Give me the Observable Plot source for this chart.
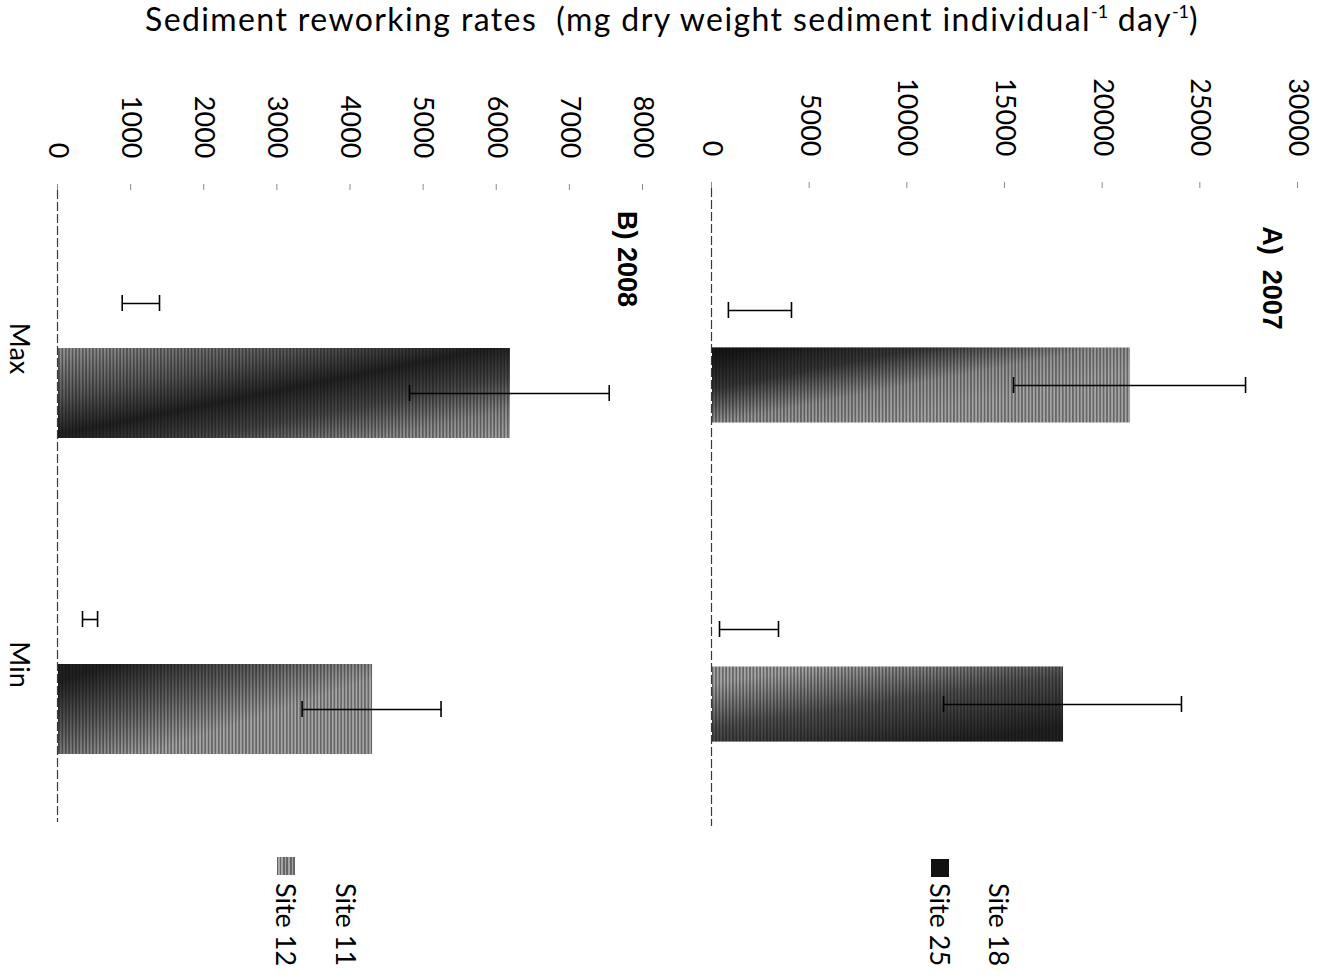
<!DOCTYPE html>
<html><head><meta charset="utf-8">
<script src="https://cdn.jsdelivr.net/npm/d3@7"></script>
<script src="https://cdn.jsdelivr.net/npm/@observablehq/plot@0.6"></script>
<style>
html,body{margin:0;padding:0;background:#fff;overflow:hidden;width:1322px;height:977px;}
#title{position:absolute;left:0;top:0;width:1344px;text-align:center;font-family:Lato,sans-serif;font-size:32px;letter-spacing:1.4px;line-height:37px;color:#000;white-space:pre;}
#title sup{font-size:18px;line-height:0;vertical-align:baseline;position:relative;top:-13px;letter-spacing:0;}
#rot{position:absolute;left:0;top:0;width:977px;height:1322px;transform-origin:0 0;transform:translate(1322px,0) rotate(90deg);}
.panel{position:absolute;left:0;}
.ptitle{position:absolute;width:300px;text-align:center;font-family:"Liberation Sans",Arial,sans-serif;font-weight:bold;font-size:27px;line-height:30px;white-space:pre;color:#000;}
.leg{position:absolute;font-family:Lato,sans-serif;font-size:27px;line-height:30px;white-space:pre;color:#000;}
.sw{position:absolute;width:18px;height:18px;}
g[aria-label="y-axis tick"] path, g[aria-label="y-axis"] .tick line {stroke:#8a8a8a;}
</style></head><body>
<svg width="0" height="0" style="position:absolute;left:0;top:0">
<defs>
<pattern id="stripes" patternUnits="userSpaceOnUse" width="10" height="3.4">
<rect width="10" height="3.4" fill="#a6a6a6"/><rect width="10" height="1.7" fill="#666"/>
</pattern>
<linearGradient id="gA0" x1="0.1" y1="1" x2="0.7" y2="0.35">
<stop offset="0" stop-color="#0a0a0a" stop-opacity="0.92"/><stop offset="0.35" stop-color="#0a0a0a" stop-opacity="0.7"/><stop offset="0.7" stop-color="#0a0a0a" stop-opacity="0.1"/><stop offset="1" stop-color="#0a0a0a" stop-opacity="0"/>
</linearGradient>
<linearGradient id="gA1" x1="1" y1="0.3" x2="0" y2="1">
<stop offset="0" stop-color="#0a0a0a" stop-opacity="0.85"/><stop offset="0.45" stop-color="#0a0a0a" stop-opacity="0.55"/><stop offset="0.85" stop-color="#0a0a0a" stop-opacity="0"/>
</linearGradient>
<linearGradient id="gB0" x1="0" y1="1" x2="1" y2="0">
<stop offset="0" stop-color="#0a0a0a" stop-opacity="0.1"/><stop offset="0.28" stop-color="#0a0a0a" stop-opacity="0.5"/><stop offset="0.48" stop-color="#0a0a0a" stop-opacity="0.85"/><stop offset="0.66" stop-color="#0a0a0a" stop-opacity="0.6"/><stop offset="0.85" stop-color="#0a0a0a" stop-opacity="0.15"/><stop offset="1" stop-color="#0a0a0a" stop-opacity="0"/>
</linearGradient>
<linearGradient id="gB1" x1="0.2" y1="1" x2="0.8" y2="0.3">
<stop offset="0" stop-color="#0a0a0a" stop-opacity="0.85"/><stop offset="0.4" stop-color="#0a0a0a" stop-opacity="0.45"/><stop offset="0.8" stop-color="#0a0a0a" stop-opacity="0"/>
</linearGradient>
</defs></svg>
<div id="title">Sediment reworking rates  (mg dry weight sediment individual<sup>-1</sup> day<sup>-1</sup>)</div>
<div id="rot"></div>
<script>
// ---- data ----
const categories = ["Max", "Min"];
const sitesA = ["Site 18", "Site 25"];
const sitesB = ["Site 11", "Site 12"];
// panel A (2007), values per category [Max, Min]
const site18Means = [2480, 1920];
const site18Errors = [1615, 1510];
const site25Means = [21400, 17970];
const site25Errors = [5940, 6090];
// panel B (2008)
const site11Means = [1140, 445];
const site11Errors = [255, 103];
const site12Means = [6180, 4295];
const site12Errors = [1365, 950];
const ticksA = [0, 5000, 10000, 15000, 20000, 25000, 30000];
const ticksB = [0, 1000, 2000, 3000, 4000, 5000, 6000, 7000, 8000];
const titleA = "A)  2007";
const titleB = "B) 2008";

function buildTable(sites, means, errs) {
  return sites.flatMap((s, k) => categories.map((c, i) => ({cat: c, site: s, value: means[k][i], err: errs[k][i]})));
}
const tableA = buildTable(sitesA, [site18Means, site25Means], [site18Errors, site25Errors]);
const tableB = buildTable(sitesB, [site11Means, site12Means], [site11Errors, site12Errors]);

function panel({table, sites, ticks, height, marginTop, marginBottom, marginLeft, marginRight, bw, showCats, grads}) {
  const facetW = (977 - marginLeft - marginRight) / categories.length;
  const po = (facetW / bw - 2) / 2;
  const capInset = (bw - 16) / 2;
  const lo = d => d.value - d.err;
  const hi = d => d.value + d.err;
  return Plot.plot({
    width: 977, height, marginTop, marginBottom, marginLeft, marginRight,
    style: {fontFamily: "Lato, sans-serif", fontSize: "27px", background: "transparent", color: "#000", overflow: "visible"},
    facet: {data: table, x: "cat"},
    fx: {domain: categories, padding: 0, axis: showCats ? "bottom" : null, tickSize: 0, tickPadding: 28, label: null},
    x: {domain: sites, paddingInner: 0, paddingOuter: po, axis: null, round: false},
    y: {domain: [0, ticks[ticks.length - 1]], ticks, tickFormat: "d", tickSize: 6, tickPadding: 26, label: null},
    marks: [
      Plot.barY(table, {filter: d => d.site === sites[0], x: "site", y: "value", fill: "white"}),
      Plot.barY(table, {filter: d => d.site === sites[1], x: "site", y: "value", fill: "url(#stripes)"}),
      Plot.barY(table, {filter: d => d.site === sites[1] && d.cat === categories[0], x: "site", y: "value", fill: `url(#${grads[0]})`}),
      Plot.barY(table, {filter: d => d.site === sites[1] && d.cat === categories[1], x: "site", y: "value", fill: `url(#${grads[1]})`}),
      Plot.ruleY([0], {stroke: "#3a3a3a", strokeWidth: 1.2, strokeDasharray: "9,3"}),
      Plot.ruleX(table, {x: "site", y1: lo, y2: hi, stroke: "#000", strokeWidth: 1.6}),
      Plot.tickY(table, {x: "site", y: lo, insetLeft: capInset, insetRight: capInset, stroke: "#000", strokeWidth: 1.6}),
      Plot.tickY(table, {x: "site", y: hi, insetLeft: capInset, insetRight: capInset, stroke: "#000", strokeWidth: 1.6})
    ]
  });
}

const rot = document.getElementById("rot");
const svgA = panel({table: tableA, sites: sitesA, ticks: ticksA, height: 640, marginTop: 24, marginBottom: 30,
  marginLeft: 188, marginRight: 151, bw: 75, showCats: false, grads: ["gA0", "gA1"]});
svgA.classList.add("panel"); svgA.style.top = "0px";
rot.appendChild(svgA);
const svgB = panel({table: tableB, sites: sitesB, ticks: ticksB, height: 682, marginTop: 39, marginBottom: 58,
  marginLeft: 190, marginRight: 155, bw: 90, showCats: true, grads: ["gB0", "gB1"]});
svgB.classList.add("panel"); svgB.style.top = "640px";
rot.appendChild(svgB);

function addDiv(cls, text, left, top, extra) {
  const d = document.createElement("div");
  d.className = cls; d.textContent = text || "";
  d.style.left = left + "px"; d.style.top = top + "px";
  if (extra) Object.assign(d.style, extra);
  rot.appendChild(d);
}
addDiv("ptitle", titleA, 128, 35);
addDiv("ptitle", titleB, 109, 680);
// legends
addDiv("sw", "", 859, 314, {background: "#fff"});
addDiv("leg", sitesA[0], 883, 308);
addDiv("sw", "", 859, 373, {background: "#111"});
addDiv("leg", sitesA[1], 883, 367);
addDiv("sw", "", 857, 967, {background: "#fff"});
addDiv("leg", sitesB[0], 883, 961);
addDiv("sw", "", 857, 1027, {background: "repeating-linear-gradient(to bottom, #666 0px, #666 1.7px, #a6a6a6 1.7px, #a6a6a6 3.4px)"});
addDiv("leg", sitesB[1], 883, 1021);
</script>
</body></html>
